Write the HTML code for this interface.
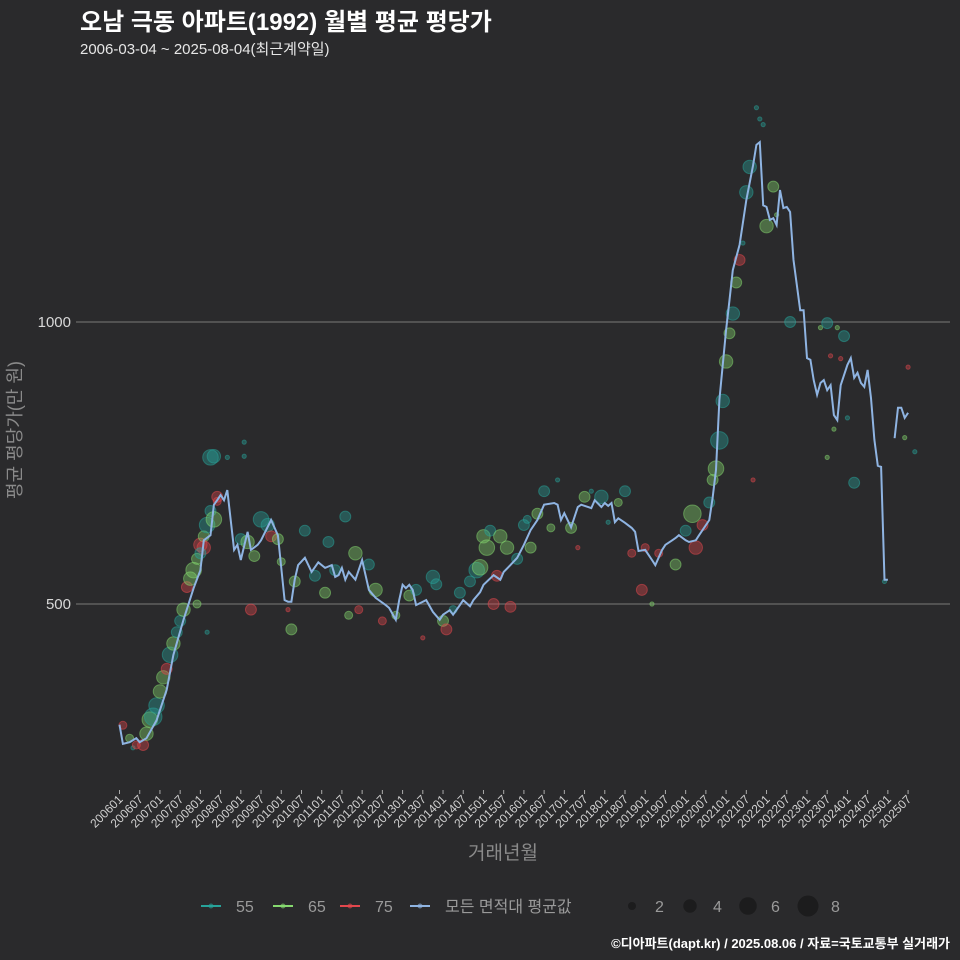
<!DOCTYPE html>
<html><head><meta charset="utf-8">
<style>
html,body{margin:0;padding:0;background:#2a2a2c;}
svg{display:block;font-family:"Liberation Sans","Noto Sans CJK KR",sans-serif;}
</style></head>
<body>
<svg id="chart" width="960" height="960" viewBox="0 0 960 960" xmlns="http://www.w3.org/2000/svg">
<rect width="960" height="960" fill="#2a2a2c"/>
<text x="80" y="30" fill="#ffffff" font-size="24" font-weight="bold">오남 극동 아파트(1992) 월별 평균 평당가</text>
<text x="80" y="54" fill="#e6e6e6" font-size="15">2006-03-04 ~ 2025-08-04(최근계약일)</text>
<g id="grid"></g>
<g id="yaxis"></g>
<text transform="translate(21,430) rotate(-90)" text-anchor="middle" fill="#8a8a8a" font-size="18">평균 평당가(만 원)</text>
<g id="xaxis"></g>
<text x="503" y="859" text-anchor="middle" fill="#8a8a8a" font-size="19">거래년월</text>
<g id="bubbles"></g>
<g id="line"></g>
<g id="legend"></g>
<text x="950" y="948" text-anchor="end" fill="#ffffff" font-size="13" font-weight="bold">©디아파트(dapt.kr) / 2025.08.06 / 자료=국토교통부 실거래가</text>
</svg>
<script>
const yTicks = [500, 1000];
const xTickLabels = ["200601","200607","200701","200707","200801","200807","200901","200907","201001","201007","201101","201107","201201","201207","201301","201307","201401","201407","201501","201507","201601","201607","201701","201707","201801","201807","201901","201907","202001","202007","202101","202107","202201","202207","202301","202307","202401","202407","202501","202507"];
const typeNames = ["55","65","75"];
const typeColors = ["#27a39a","#86d96f","#e3474d"];
const lineMonth = [0,1,3,5,6,8,11,14,16,19,22,24,25,27,28,29,30,31,32,33,34,35,36,38,39,41,42,45,47,49,50,51,52,53,55,57,59,61,63,64,65,66,67,68,70,72,74,76,79,80,82,83,84,85,86,87,88,91,93,95,96,98,99,101,102,104,105,107,108,111,113,114,116,118,120,122,124,126,129,130,131,132,134,136,137,140,141,143,144,145,146,147,148,150,152,153,154,156,157,158,159,161,162,164,165,166,168,169,171,172,175,176,177,178,180,181,182,184,186,188,189,190,191,192,193,194,195,196,197,198,199,200,202,203,204,205,206,207,208,209,210,211,212,213,214,216,217,218,219,220,221,222,223,224,225,226,227,228,229,230,231,232,233,234];
const lineValue = [286,252,255,262,255,262,294,348,410,472,528,560,613,622,676,684,693,684,702,649,596,605,578,628,596,605,613,649,622,507,504,504,543,569,582,557,574,564,569,548,551,564,543,557,543,578,525,511,498,493,472,507,534,528,534,525,498,507,486,472,481,489,481,498,507,496,507,521,534,551,543,557,569,582,605,631,649,676,679,676,649,661,636,672,676,670,684,672,679,674,679,645,652,644,635,628,594,596,587,578,569,596,605,613,617,622,613,610,613,622,649,688,738,862,986,1039,1092,1137,1216,1278,1314,1319,1207,1204,1181,1184,1172,1234,1202,1204,1195,1110,1021,1021,936,933,897,871,892,897,879,888,835,826,888,924,936,901,910,892,885,915,865,791,745,743,543,543,null,794,848,848,830,839];
const bMonth = [1,3,4,5,7,8,9,10,11,12,13,14,15,16,17,18,19,20,21,22,23,24,25,26,27,28,29,27,28,32,37,25,24,29,26,23,36,38,40,42,44,45,47,39,37,48,51,52,50,55,58,61,62,64,67,68,70,71,74,76,78,82,86,88,90,93,94,96,97,99,101,104,106,107,108,109,110,111,112,113,115,116,118,120,121,122,124,126,128,130,134,136,138,140,143,145,148,150,152,155,156,158,160,165,168,170,171,173,175,176,177,178,179,180,181,182,183,184,185,186,187,189,190,191,192,194,195,199,208,210,213,215,211,214,212,210,216,218,188,227,233,234,236];
const bValue = [285,262,245,250,250,270,295,300,320,345,370,385,410,430,450,470,490,530,545,560,580,605,620,640,665,650,690,760,762,760,762,600,590,682,450,500,615,610,585,650,640,620,615,490,787,575,455,540,490,630,550,520,610,560,655,480,590,490,570,525,470,480,515,525,440,548,535,470,455,490,520,540,560,565,620,600,630,500,550,620,600,495,580,640,650,600,660,700,635,720,635,600,690,700,690,645,680,700,590,525,600,500,590,570,630,660,600,640,680,720,740,790,860,930,980,1015,1070,1110,1140,1230,1275,1380,1360,1350,1170,1240,1190,1000,990,998,990,975,940,935,810,760,830,715,720,540,795,920,770];
const bCount = [2,2,1,2,3,4,5,6,5,4,4,3,5,4,3,3,4,3,4,5,3,4,3,5,3,5,3,5,4,1,1,4,3,2,1,2,3,4,3,5,4,3,3,3,1,2,3,3,1,3,3,3,3,3,3,2,4,2,3,4,2,2,3,3,1,4,3,3,3,2,3,3,5,5,4,5,3,3,3,4,4,3,3,3,2,3,3,3,2,1,3,1,3,1,4,1,2,3,2,3,2,1,2,3,3,6,4,3,3,3,5,6,4,4,3,4,3,3,1,4,4,1,1,1,4,3,1,3,1,3,1,3,1,1,1,1,1,3,1,1,1,1,1];
const bType = [2,1,0,2,2,1,1,0,0,1,1,2,0,1,0,0,1,2,1,1,1,2,1,0,0,1,2,0,0,0,0,2,0,2,0,1,0,1,1,0,0,2,1,2,0,1,1,1,2,0,0,1,0,0,0,1,1,2,0,1,2,1,1,0,2,0,0,1,2,0,0,0,0,1,1,1,0,2,2,1,1,2,0,0,0,1,1,0,1,0,1,2,1,0,0,0,1,0,2,2,2,1,2,1,0,1,2,2,0,1,1,0,0,1,1,0,1,2,0,0,0,0,0,0,1,1,1,0,1,0,1,0,2,2,1,1,0,0,2,0,1,2,0];
const sizeLegend = [2,4,6,8];

const NS = "http://www.w3.org/2000/svg";
const X0 = 119.5, XM = 3.37;
function xs(m){ return X0 + m*XM; }
function ys(v){ return 322 + (1000 - v)*0.564; }
function rs(n){ return 4.6*Math.sqrt(n) - 2.5; }
function mk(tag, parent){ const e = document.createElementNS(NS, tag); parent.appendChild(e); return e; }

const grid = document.getElementById('grid');
const yaxis = document.getElementById('yaxis');
yTicks.forEach(v => {
  const l = mk('line', grid);
  
  
  l.setAttribute('x1', 76); l.setAttribute('x2', 950);
  l.setAttribute('y1', ys(v)); l.setAttribute('y2', ys(v));
  l.setAttribute('stroke', '#6a6a6a'); l.setAttribute('stroke-width', 1.2);
  const t = mk('text', yaxis);
  
  
  t.setAttribute('x', 71); t.setAttribute('y', ys(v) + 5);
  t.setAttribute('text-anchor', 'end'); t.setAttribute('fill', '#d8d8d8'); t.setAttribute('font-size', 15);
  t.textContent = v;
});

const xaxis = document.getElementById('xaxis');
xTickLabels.forEach((lab, i) => {
  const x = xs(i*6);
  const tk = mk('line', xaxis);
  
  
  tk.setAttribute('x1', x); tk.setAttribute('x2', x); tk.setAttribute('y1', 790); tk.setAttribute('y2', 794);
  tk.setAttribute('stroke', '#aaaaaa');
  const t = mk('text', xaxis);
  
  
  t.setAttribute('transform', 'translate(' + (x + 4) + ',800) rotate(-45)');
  t.setAttribute('text-anchor', 'end'); t.setAttribute('fill', '#d0d0d0'); t.setAttribute('font-size', 12);
  t.textContent = lab;
});

const bub = document.getElementById('bubbles');
bMonth.forEach((m, i) => {
  const c = mk('circle', bub);
  
  
  c.setAttribute('cx', xs(m)); c.setAttribute('cy', ys(bValue[i])); c.setAttribute('r', rs(bCount[i]));
  c.setAttribute('fill', typeColors[bType[i]]); c.setAttribute('fill-opacity', 0.38);
  c.setAttribute('stroke', typeColors[bType[i]]); c.setAttribute('stroke-opacity', 0.5);
});

const lg = document.getElementById('line');
let seg = [];
const segs = [];
lineMonth.forEach((m, i) => {
  if (lineValue[i] === null) { if (seg.length) segs.push(seg); seg = []; }
  else seg.push(xs(m).toFixed(1) + ',' + ys(lineValue[i]).toFixed(1));
});
if (seg.length) segs.push(seg);
segs.forEach(s => {
  const p = mk('polyline', lg);
  
  
  p.setAttribute('points', s.join(' '));
  p.setAttribute('fill', 'none'); p.setAttribute('stroke', '#8fb4e2'); p.setAttribute('stroke-width', 2);
});

const leg = document.getElementById('legend');
const legItems = [["55", typeColors[0], 211], ["65", typeColors[1], 283], ["75", typeColors[2], 350], ["모든 면적대 평균값", "#8fb4e2", 420]];
legItems.forEach(it => {
  const g = mk('g', leg);
  
  
  const l = mk('line', g);
  l.setAttribute('x1', it[2] - 10); l.setAttribute('x2', it[2] + 10); l.setAttribute('y1', 906); l.setAttribute('y2', 906);
  l.setAttribute('stroke', it[1]); l.setAttribute('stroke-width', 2);
  const c = mk('circle', g);
  c.setAttribute('cx', it[2]); c.setAttribute('cy', 906); c.setAttribute('r', 2.5); c.setAttribute('fill', it[1]); c.setAttribute('fill-opacity', 0.6);
  const t = mk('text', g);
  t.setAttribute('x', it[2] + 25); t.setAttribute('y', 912); t.setAttribute('fill', '#9a9a9a'); t.setAttribute('font-size', 16);
  t.textContent = it[0];
});
const sizeX = [632, 690, 748, 808];
sizeLegend.forEach((n, i) => {
  const g = mk('g', leg);
  
  
  const c = mk('circle', g);
  c.setAttribute('cx', sizeX[i]); c.setAttribute('cy', 906); c.setAttribute('r', rs(n)); c.setAttribute('fill', '#1c1c1d');
  const t = mk('text', g);
  t.setAttribute('x', sizeX[i] + 23); t.setAttribute('y', 912); t.setAttribute('fill', '#9a9a9a'); t.setAttribute('font-size', 16);
  t.textContent = n;
});
</script>
</body></html>
